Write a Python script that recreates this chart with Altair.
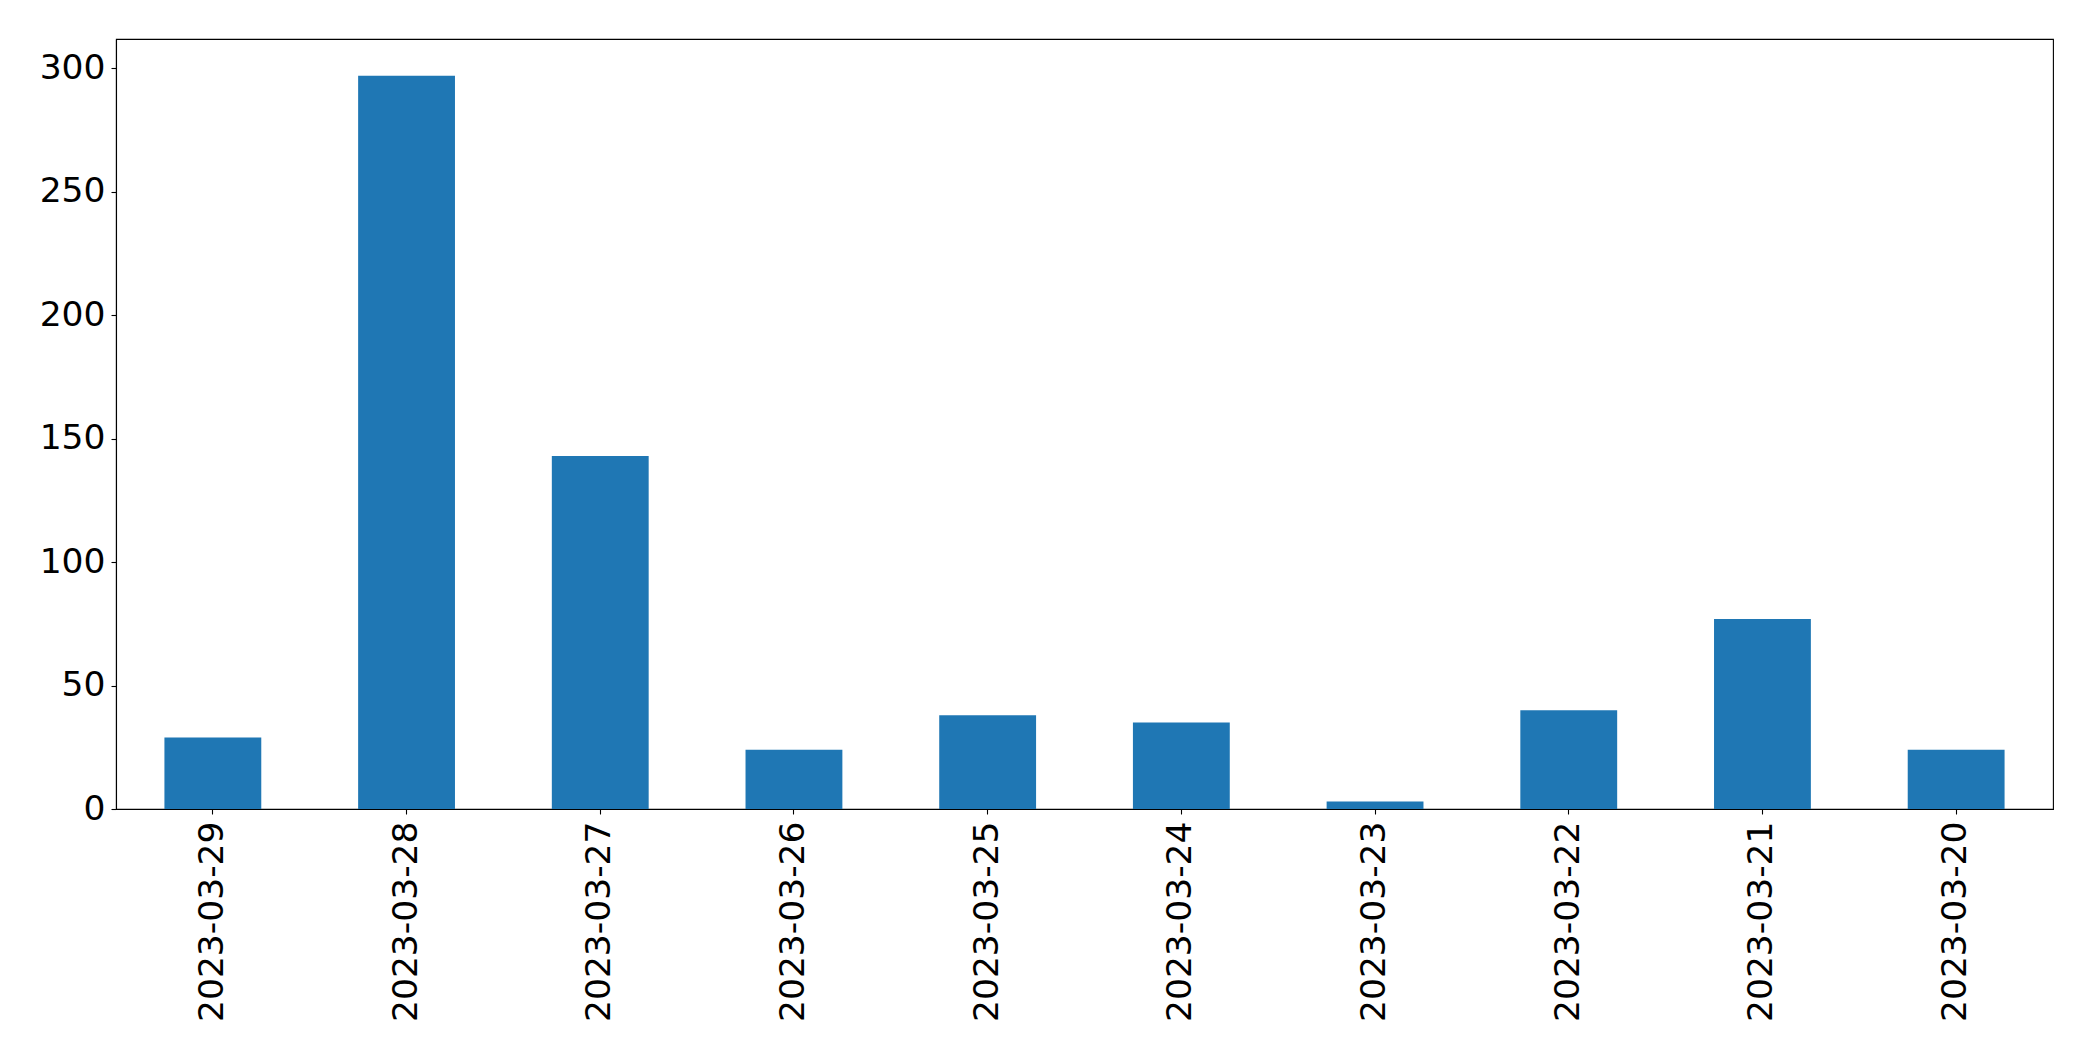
import altair as alt
import pandas as pd

dates = ["2023-03-29", "2023-03-28", "2023-03-27", "2023-03-26", "2023-03-25",
         "2023-03-24", "2023-03-23", "2023-03-22", "2023-03-21", "2023-03-20"]
counts = [29, 297, 143, 24, 38, 35, 3, 40, 77, 24]
y_ticks = [0, 50, 100, 150, 200, 250, 300]

df = pd.DataFrame({"date": dates, "count": counts})

FONT = "DejaVu Sans"
FS = 34.5

chart = (
    alt.Chart(df)
    .mark_bar(color="#1f77b4")
    .encode(
        x=alt.X(
            "date:N",
            sort=None,
            title=None,
            scale=alt.Scale(paddingInner=0.5, paddingOuter=0.25),
            axis=alt.Axis(
                labelAngle=-90,
                labelFont=FONT,
                labelFontSize=FS,
                labelColor="black",
                labelPadding=7,
                labelLimit=0,
                tickSize=5,
                tickWidth=1.1,
                tickColor="black",
                domainColor="black",
                domainWidth=1.1,
                grid=False,
            ),
        ),
        y=alt.Y(
            "count:Q",
            title=None,
            scale=alt.Scale(domain=[0, 311.85], nice=False, zero=True),
            axis=alt.Axis(
                values=y_ticks,
                labelFont=FONT,
                labelFontSize=FS,
                labelColor="black",
                labelPadding=6,
                tickSize=5,
                tickWidth=1.1,
                tickColor="black",
                domainColor="black",
                domainWidth=1.1,
                grid=False,
            ),
        ),
    )
    .properties(
        width=1937,
        height=770,
        autosize=alt.AutoSizeParams(type="none"),
        padding={"left": 108, "top": 31, "right": 32, "bottom": 230},
    )
    .configure(background="white")
    .configure_view(stroke="#000000", strokeWidth=1.1, strokeOpacity=1)
)

chart.save("out.html", embed_options={"renderer": "svg", "actions": False})
